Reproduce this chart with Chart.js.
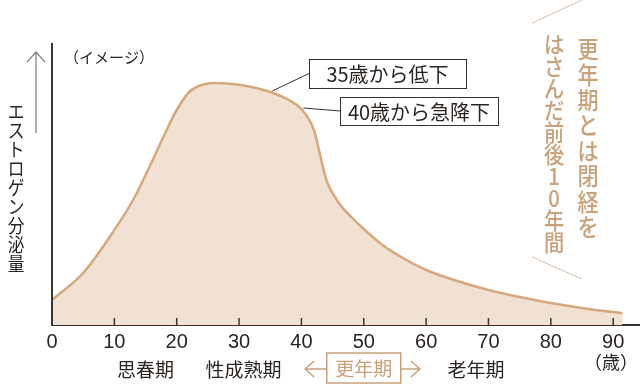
<!DOCTYPE html>
<html>
<head>
<meta charset="utf-8">
<script src="https://cdn.jsdelivr.net/npm/chart.js@4"></script>
<style>
  html, body { margin: 0; padding: 0; background: #fff; }
  #wrap { width: 640px; height: 385px; position: relative; }
</style>
</head>
<body>
<div id="wrap"><canvas id="myChart"></canvas></div>
<script>
// ages (years) and estrogen level (image, arbitrary units)
const ages   = [0, 5, 10, 13, 16, 18, 20, 22, 24, 26, 29, 32, 35, 38, 40, 42, 43, 44, 46, 48, 50, 53, 56, 60, 65, 70, 75, 80, 85, 90, 91.5];
const levels = [25, 52, 95, 125, 163, 190, 215, 233, 240, 242, 241, 238, 233, 225, 216, 195, 170, 145, 122, 108, 96, 80, 68, 55, 44, 35, 28, 22, 17, 13, 12];
const xTicks = [0, 10, 20, 30, 40, 50, 60, 70, 80, 90];

// life stages under the axis (label, age at centre)
const stages = [['思春期', 15], ['性成熟期', 30.7], ['老年期', 68]];
const meno = { label: '更年期', age: 50, from: 40.6, to: 59 };
const callouts = [
  { text: '35歳から低下', age: 35, box: [309, 59, 157, 29] },
  { text: '40歳から急降下', age: 40, box: [340, 97, 158, 28] }
];

const LINE = '#d6a87e';
const FILL = '#f0e1d3';
const TAN = '#c9a17b';
const INK = '#2b2522';
const CJK = '"Noto Sans CJK JP", sans-serif';

function vtext(ctx, str, x, y, step, font, color) {
  ctx.save();
  ctx.fillStyle = color;
  ctx.font = font;
  ctx.textAlign = 'center';
  ctx.textBaseline = 'middle';
  [...str].forEach((ch, i) => {
    ctx.save();
    ctx.translate(x, y + i * step);
    ctx.scale(0.88, 1);
    ctx.fillText(ch, 0, 0);
    ctx.restore();
  });
  ctx.restore();
}

const decor = {
  id: 'decor',
  afterDatasetsDraw(chart) {
    const ctx = chart.ctx;
    const xs = chart.scales.x;
    const ys = chart.scales.y;
    const bottom = chart.chartArea.bottom;
    const x0 = xs.getPixelForValue(0);

    ctx.save();
    // y axis line
    ctx.strokeStyle = '#3d3531';
    ctx.lineWidth = 2;
    ctx.beginPath();
    ctx.moveTo(x0, 43);
    ctx.lineTo(x0, bottom);
    ctx.stroke();

    // inner tick marks
    ctx.lineWidth = 1.5;
    xTicks.slice(1).forEach(v => {
      let px = xs.getPixelForValue(v);
      ctx.beginPath();
      ctx.moveTo(px, bottom);
      ctx.lineTo(px, bottom - 7);
      ctx.stroke();
    });

    // arrow next to the y label
    ctx.strokeStyle = '#8a8583';
    ctx.lineWidth = 1.3;
    ctx.beginPath();
    ctx.moveTo(36, 133);
    ctx.lineTo(36, 52);
    ctx.moveTo(27, 62);
    ctx.lineTo(36, 52);
    ctx.lineTo(45, 62);
    ctx.stroke();

    vtext(ctx, 'エストロゲン分泌量', 16, 112, 19, '19px ' + CJK, INK);

    ctx.fillStyle = INK;
    ctx.font = '15px ' + CJK;
    ctx.textAlign = 'left';
    ctx.textBaseline = 'middle';
    ctx.fillText('（イメージ）', 64, 57);

    // callouts
    ctx.font = '20px ' + CJK;
    ctx.textAlign = 'center';
    callouts.forEach(c => {
      let [bx, by, bw, bh] = c.box;
      let px = xs.getPixelForValue(c.age);
      let idx = ages.indexOf(c.age);
      let py = ys.getPixelForValue(levels[idx]);
      ctx.strokeStyle = '#333';
      ctx.lineWidth = 1;
      ctx.beginPath();
      ctx.moveTo(px + 2, py - 1);
      ctx.lineTo(bx, by + bh / 2);
      ctx.stroke();
      ctx.fillStyle = '#fff';
      ctx.fillRect(bx, by, bw, bh);
      ctx.strokeRect(bx + 0.5, by + 0.5, bw, bh);
      ctx.fillStyle = INK;
      ctx.fillText(c.text, bx + bw / 2, by + bh / 2 + 1);
    });

    // right side note
    ctx.strokeStyle = '#d9bfa8';
    ctx.lineWidth = 1;
    ctx.beginPath();
    ctx.moveTo(582, 0);
    ctx.lineTo(532, 23);
    ctx.moveTo(532, 257);
    ctx.lineTo(582, 279);
    ctx.stroke();
    vtext(ctx, '更年期とは閉経を', 588, 49, 25.4, '500 24px ' + CJK, TAN);
    vtext(ctx, 'はさんだ前後10年間', 554, 44, 22, '500 23px ' + CJK, TAN);

    // stage labels
    ctx.fillStyle = INK;
    ctx.font = '19px ' + CJK;
    ctx.textAlign = 'center';
    ctx.textBaseline = 'middle';
    stages.forEach(([t, a]) => ctx.fillText(t, xs.getPixelForValue(a), 370));
    ctx.font = '18px ' + CJK;
    ctx.fillText('（歳）', 611, 362);

    // menopause box and arrows
    let mc = xs.getPixelForValue(meno.age);
    let ml = xs.getPixelForValue(meno.from);
    let mr = xs.getPixelForValue(meno.to);
    ctx.strokeStyle = TAN;
    ctx.lineWidth = 1.5;
    ctx.strokeRect(mc - 37, 353, 74, 30);
    ctx.beginPath();
    ctx.moveTo(ml, 369);
    ctx.lineTo(mc - 37, 369);
    ctx.moveTo(ml + 9, 361);
    ctx.lineTo(ml, 369);
    ctx.lineTo(ml + 9, 377);
    ctx.moveTo(mc + 37, 369);
    ctx.lineTo(mr, 369);
    ctx.moveTo(mr - 9, 361);
    ctx.lineTo(mr, 369);
    ctx.lineTo(mr - 9, 377);
    ctx.stroke();
    ctx.fillStyle = TAN;
    ctx.font = '19px ' + CJK;
    ctx.fillText(meno.label, mc, 369);
    ctx.restore();
  }
};

let ctx = document.getElementById('myChart').getContext('2d');
let chart = new Chart(ctx, {
  type: 'line',
  data: {
    datasets: [{
      data: ages.map((a, i) => ({ x: a, y: levels[i] })),
      borderColor: LINE,
      backgroundColor: FILL,
      borderWidth: 2.5,
      fill: 'origin',
      pointRadius: 0,
      cubicInterpolationMode: 'monotone'
    }]
  },
  options: {
    responsive: true,
    maintainAspectRatio: false,
    animation: false,
    layout: { padding: { left: 52, top: 43, right: 0, bottom: 0 } },
    plugins: { legend: { display: false }, tooltip: { enabled: false } },
    scales: {
      x: {
        type: 'linear',
        min: 0,
        max: 94.3,
        afterBuildTicks: s => { s.ticks = xTicks.map(v => ({ value: v })); },
        afterFit: s => { s.height = 60; },
        grid: { display: true, drawOnChartArea: false, drawTicks: false },
        border: { display: true, color: '#3d3531', width: 2 },
        ticks: {
          padding: 5,
          maxRotation: 0,
          color: INK,
          font: { family: '"Liberation Sans Narrow", "Liberation Sans", sans-serif', size: 20 }
        }
      },
      y: {
        display: false,
        min: 0,
        max: 282
      }
    }
  },
  plugins: [decor]
});
</script>
</body>
</html>
